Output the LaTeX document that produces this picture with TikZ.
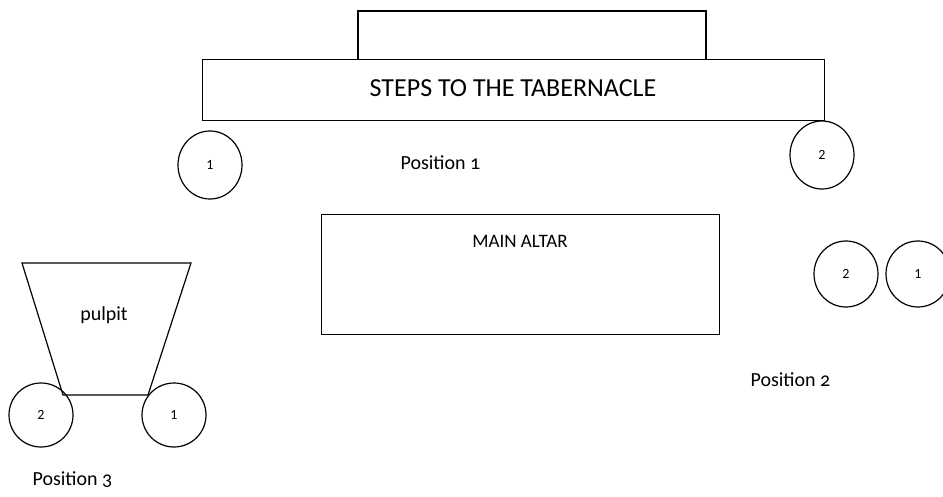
\documentclass[tikz,border=0pt]{standalone}
\usepackage{fontspec}
\setmainfont{Carlito}[Numbers=OldStyle]
\newfontfamily\liningfont{Carlito}[Numbers=Lining]
\usetikzlibrary{shapes.geometric}
\begin{document}
\begin{tikzpicture}[x=1pt,y=-1pt,
  line width=1.2pt,
  box/.style={draw,line width=1.2pt},
  spot/.style={draw,ellipse,line width=1.2pt,minimum width=64pt,minimum height=68pt,inner sep=0pt,font=\liningfont\fontsize{14}{16}\selectfont},
  spotr/.style={spot,minimum height=66pt},
  poslabel/.style={anchor=base west,inner sep=0pt,font=\fontsize{20}{23}\selectfont}]
\useasboundingbox (0,0) rectangle (943,497);
% steps
\draw[box] (358,59) -- (358,11) -- (706,11) -- (706,59);
\node[box,minimum width=622pt,minimum height=61pt,inner sep=0pt,anchor=north west] (steps) at (202,59) {};
\node[font=\fontsize{26}{30}\selectfont,inner sep=0pt] (stepslabel) at (513,88) {STEPS TO THE TABERNACLE};
% position 1
\node[spot] (p1a) at (210,165) {1};
\node[spot] (p1b) at (822,155) {2};
\node[poslabel] (pos1) at (400,170) {Position 1};
% altar
\node[box,minimum width=398pt,minimum height=120pt,inner sep=0pt,anchor=north west] (altar) at (321,214) {};
\node[font=\fontsize{19}{22}\selectfont,inner sep=0pt] (altarlabel) at (520,241) {MAIN ALTAR};
% position 2
\node[spotr] (p2b) at (846,274) {2};
\node[spotr] (p2a) at (918,274) {1};
\node[poslabel] (pos2) at (750,386) {Position 2};
% pulpit
\coordinate (tl) at (22,263);
\coordinate (tr) at (191,263);
\coordinate (br) at (148,395);
\coordinate (bl) at (63,395);
\draw (tl) -- (tr) -- (br) -- (bl) -- cycle;
\node[font=\fontsize{20}{24}\selectfont,inner sep=0pt] (pulpit) at (104,315) {pulpit};
\node[spotr,minimum height=64pt] (p3b) at (41,415) {2};
\node[spotr,minimum height=64pt] (p3a) at (174,415) {1};
\node[poslabel] (pos3) at (32,485) {Position 3};
\end{tikzpicture}
\end{document}
